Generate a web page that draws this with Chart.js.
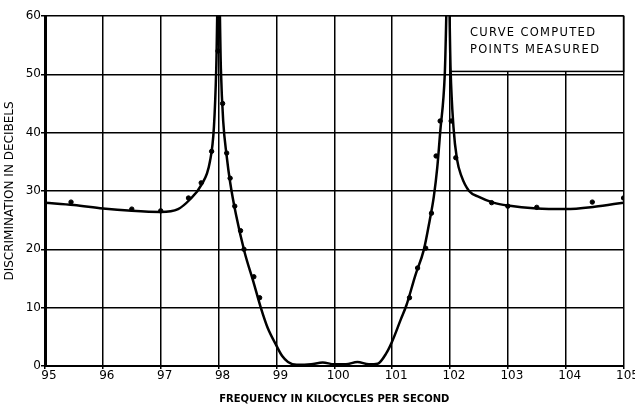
<!DOCTYPE html>
<html lang="en">
<head>
    <meta charset="UTF-8">
    <title>Discrimination vs Frequency</title>
    <script src="https://cdn.jsdelivr.net/npm/chart.js"></script>
    <style>
        body {
            margin: 0;
            background-color: #fff;
        }
        .chart-container {
            position: relative;
            width: 635px;
            height: 405px;
        }
    </style>
</head>
<body>
    <div class="chart-container">
        <canvas id="discChart" width="635" height="405"></canvas>
    </div>

    <script>
        // computed curve (frequency in kc/s, discrimination in dB)
        const curveFreq = [95, 95.5, 96, 96.5, 97, 97.3, 97.5, 97.7, 97.85, 97.92, 97.96, 98.0, 98.04, 98.08, 98.14, 98.2, 98.3, 98.45, 98.6, 98.73, 98.85, 99.0, 99.1, 99.2, 99.35, 99.6, 99.8, 100.0, 100.2, 100.4, 100.6, 100.75, 100.9, 101.0, 101.15, 101.25, 101.4, 101.55, 101.65, 101.72, 101.78, 101.83, 101.91, 101.97, 102.01, 102.06, 102.12, 102.2, 102.33, 102.5, 102.75, 103, 103.5, 104, 104.5, 105];
        const curveDb = [28.0, 27.6, 27.0, 26.6, 26.4, 26.9, 28.5, 31.0, 35, 41, 51, 70, 51, 42, 36, 31.5, 26, 19.5, 14.5, 10, 6.5, 3.5, 1.7, 0.7, 0.2, 0.3, 0.6, 0.3, 0.3, 0.7, 0.3, 0.4, 2.2, 4.2, 8, 10.5, 15.5, 20, 25, 29, 34, 40, 50, 70, 51, 41, 35.5, 32.5, 30, 29, 28, 27.5, 27.0, 26.9, 27.3, 28.0];

        // measured points
        const pointFreq = [95.45, 96.5, 97.0, 97.48, 97.7, 97.88, 97.99, 98.07, 98.14, 98.2, 98.28, 98.38, 98.44, 98.61, 98.71, 101.3, 101.44, 101.58, 101.68, 101.76, 101.83, 102.02, 102.1, 102.72, 103.0, 103.5, 104.46, 105];
        const pointDb = [28.1, 26.9, 26.6, 28.8, 31.4, 36.8, 54, 45, 36.5, 32.2, 27.4, 23.2, 20, 15.3, 11.7, 11.7, 16.8, 20.2, 26.2, 36, 42, 42, 35.7, 28, 27.4, 27.2, 28.1, 28.8];

        const xTicks = [95, 96, 97, 98, 99, 100, 101, 102, 103, 104, 105];
        const yTicks = [0, 10, 20, 30, 40, 50, 60];
        const legendLines = ['CURVE COMPUTED', 'POINTS MEASURED'];

        const fontFamily = "'DejaVu Sans', sans-serif";

        // white box with the legend text in the top right corner
        const legendBox = {
            id: 'legendBox',
            beforeDatasetsDraw(chart) {
                const { ctx, scales: { x, y } } = chart;
                const left = x.getPixelForValue(102);
                const right = x.getPixelForValue(105);
                const top = y.getPixelForValue(60);
                const bottom = y.getPixelForValue(50.5);
                ctx.save();
                ctx.fillStyle = '#fff';
                ctx.fillRect(left, top, right - left, bottom - top);
                ctx.strokeStyle = '#000';
                ctx.lineWidth = 1.5;
                ctx.strokeRect(left, top, right - left, bottom - top);
                ctx.fillStyle = '#000';
                ctx.font = '11.5px ' + fontFamily;
                ctx.textBaseline = 'middle';
                ctx.textAlign = 'left';
                if ('letterSpacing' in ctx) ctx.letterSpacing = '1.3px';
                ctx.fillText(legendLines[0], left + 20, top + 17);
                ctx.fillText(legendLines[1], left + 20, top + 34);
                ctx.restore();
            }
        };

        const ctx = document.getElementById('discChart').getContext('2d');
        new Chart(ctx, {
            type: 'line',
            data: {
                datasets: [
                    {
                        label: 'Curve computed',
                        data: curveFreq.map((f, i) => ({ x: f, y: curveDb[i] })),
                        borderColor: '#000',
                        borderWidth: 2.5,
                        pointRadius: 0,
                        cubicInterpolationMode: 'monotone',
                        fill: false
                    },
                    {
                        label: 'Points measured',
                        type: 'scatter',
                        data: pointFreq.map((f, i) => ({ x: f, y: pointDb[i] })),
                        backgroundColor: '#000',
                        borderColor: '#000',
                        pointRadius: 2.2,
                        showLine: false
                    }
                ]
            },
            options: {
                responsive: false,
                animation: false,
                layout: {
                    padding: { top: 16, right: 11, left: 0, bottom: 0 }
                },
                plugins: {
                    legend: { display: false },
                    tooltip: { enabled: false }
                },
                scales: {
                    x: {
                        type: 'linear',
                        min: 95,
                        max: 105,
                        afterBuildTicks: scale => { scale.ticks = xTicks.map(v => ({ value: v })); },
                        afterFit: scale => { scale.height = 39; },
                        grid: { color: '#000', lineWidth: 1.5, tickLength: 3 },
                        border: { color: '#000', width: 2 },
                        ticks: {
                            color: '#000',
                            padding: 0,
                            labelOffset: 4,
                            autoSkip: false,
                            maxRotation: 0,
                            font: { family: fontFamily, size: 12 }
                        },
                        title: {
                            display: true,
                            text: 'FREQUENCY IN KILOCYCLES PER SECOND',
                            color: '#000',
                            padding: { top: 2, bottom: 0 },
                            font: { family: fontFamily, size: 10, weight: 'bold' }
                        }
                    },
                    y: {
                        min: 0,
                        max: 60,
                        afterBuildTicks: scale => { scale.ticks = yTicks.map(v => ({ value: v })); },
                        afterFit: scale => { scale.width = 45; },
                        grid: { color: '#000', lineWidth: 1.5, tickLength: 4 },
                        border: { color: '#000', width: 3 },
                        ticks: {
                            color: '#000',
                            padding: 0,
                            autoSkip: false,
                            font: { family: fontFamily, size: 12 }
                        },
                        title: {
                            display: true,
                            text: 'DISCRIMINATION IN DECIBELS',
                            color: '#000',
                            padding: { top: 3, bottom: 0 },
                            font: { family: fontFamily, size: 12 }
                        }
                    }
                }
            },
            plugins: [legendBox]
        });
    </script>
</body>
</html>
